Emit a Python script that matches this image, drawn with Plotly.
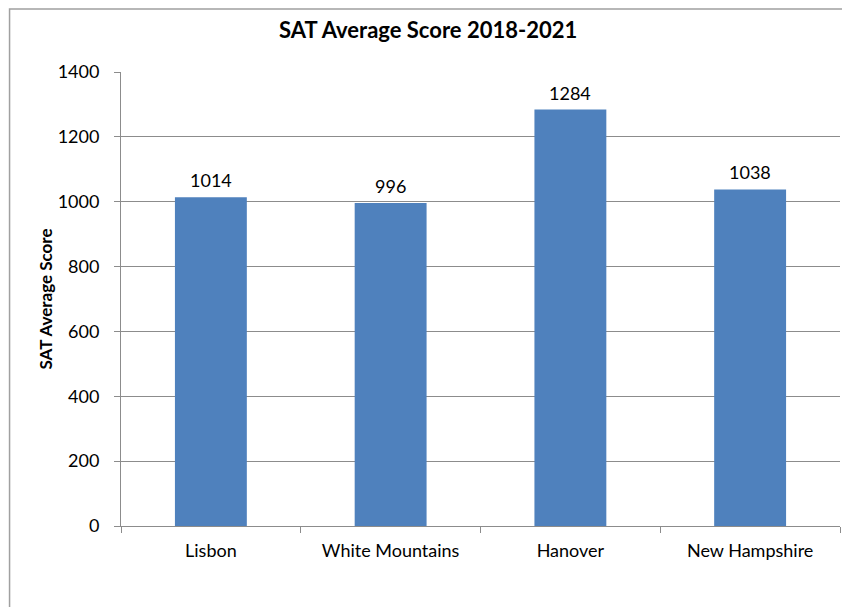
import plotly.graph_objects as go

# chart data
regions = ["Lisbon", "White Mountains", "Hanover", "New Hampshire"]
scores = [1014, 996, 1284, 1038]
y_ticks = [0, 200, 400, 600, 800, 1000, 1200, 1400]

font_family = "Lato, Open Sans, sans-serif"
grid_gray = "#8c8c8c"

fig = go.Figure()
fig.add_trace(go.Bar(
    x=regions,
    y=scores,
    width=0.4,
    marker=dict(color="#4f81bd", line=dict(width=0)),
    hoverinfo="x+y",
))

# value labels above each bar
for r, s in zip(regions, scores):
    fig.add_annotation(x=r, y=s, text=str(s), showarrow=False,
                       yanchor="bottom", yshift=4,
                       font=dict(size=18, color="#000000", family=font_family))

# outer chart border
fig.add_shape(type="rect", xref="paper", yref="paper",
              x0=-0.155, x1=1.007, y0=-0.3, y1=1.139,
              line=dict(color="#a0a0a0", width=1.5), layer="below")

fig.update_layout(
    width=842, height=599,
    margin=dict(l=113, r=10, t=64, b=81),
    paper_bgcolor="white", plot_bgcolor="white",
    showlegend=False,
    font=dict(family=font_family, size=18, color="#000000"),
    title=dict(text="<b>SAT Average Score 2018-2021</b>", x=0.499, xref="container",
               y=0.963, yanchor="middle",
               font=dict(size=22, family=font_family, color="#000000")),
)
fig.update_xaxes(
    type="category",
    showline=True, linecolor=grid_gray, linewidth=1,
    ticks="outside", tickson="boundaries", ticklen=6, tickcolor=grid_gray,
    showgrid=False, ticklabelstandoff=8,
    tickfont=dict(size=18, family=font_family),
)
fig.update_yaxes(
    range=[0, 1400], tickvals=y_ticks,
    showline=True, linecolor=grid_gray, linewidth=1,
    ticks="outside", ticklen=6, tickcolor=grid_gray,
    showgrid=True, gridcolor=grid_gray, gridwidth=1,
    zeroline=False, ticklabelstandoff=11,
    tickfont=dict(size=18, family=font_family),
    title=dict(text="<b>SAT Average Score</b>", standoff=0,
               font=dict(size=17, family=font_family)),
)

fig.write_html("out.html")
